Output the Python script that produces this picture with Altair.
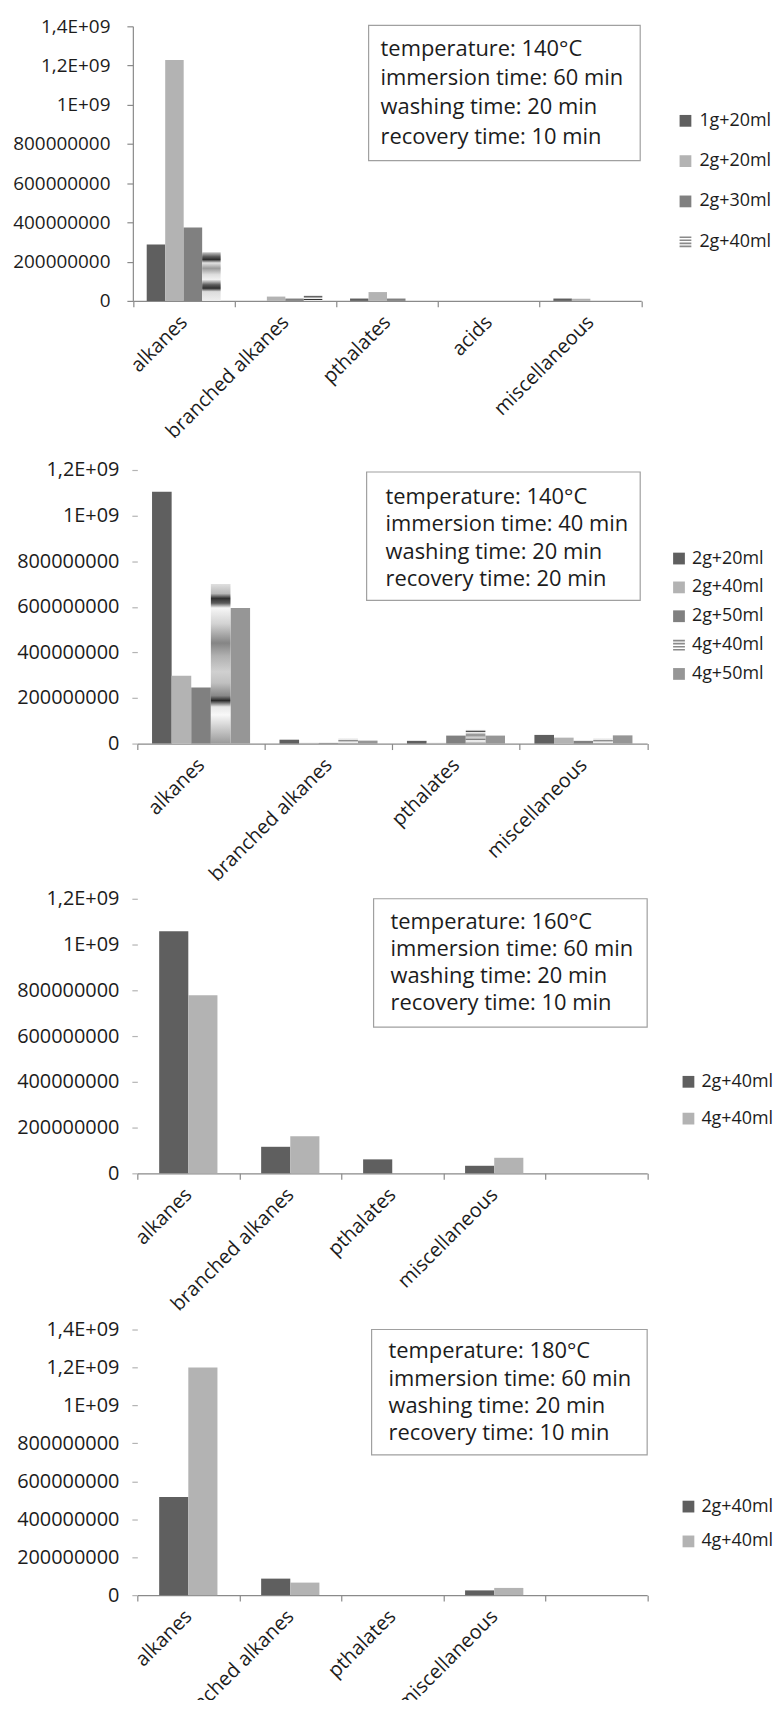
import altair as alt
import pandas as pd

FONT = "Open Sans"
INK = "#1c1c1c"
AXIS = "#8a8a8a"

# ---------------- data ----------------
cats1 = ["alkanes", "branched alkanes", "pthalates", "acids", "miscellaneous"]
ser1 = ["1g+20ml", "2g+20ml", "2g+30ml", "2g+40ml"]
p1_1g20 = [288e6, 0, 12e6, 0, 12e6]
p1_2g20 = [1228e6, 22e6, 45e6, 0, 11e6]
p1_2g30 = [374e6, 12e6, 12e6, 0, 0]
p1_2g40 = [248e6, 27e6, 0, 0, 0]

cats2 = ["alkanes", "branched alkanes", "pthalates", "miscellaneous"]
ser2 = ["2g+20ml", "2g+40ml", "2g+50ml", "4g+40ml", "4g+50ml"]
p2_2g20 = [1105e6, 17e6, 12e6, 38e6]
p2_2g40 = [297e6, 3e6, 3e6, 26e6]
p2_2g50 = [246e6, 3e6, 35e6, 12e6]
p2_4g40 = [700e6, 22e6, 60e6, 22e6]
p2_4g50 = [595e6, 13e6, 35e6, 36e6]

cats34 = ["alkanes", "branched alkanes", "pthalates", "miscellaneous", ""]
ser34 = ["2g+40ml", "4g+40ml"]
p3_2g40 = [1058e6, 116e6, 61e6, 33e6]
p3_4g40 = [778e6, 162e6, 0, 68e6]
p4_2g40 = [517e6, 87e6, 0, 25e6]
p4_4g40 = [1200e6, 66e6, 0, 38e6]

info1 = ["temperature: 140°C", "immersion time: 60 min", "washing time: 20 min", "recovery time: 10 min"]
info2 = ["temperature: 140°C", "immersion time: 40 min", "washing time: 20 min", "recovery time: 20 min"]
info3 = ["temperature: 160°C", "immersion time: 60 min", "washing time: 20 min", "recovery time: 10 min"]
info4 = ["temperature: 180°C", "immersion time: 60 min", "washing time: 20 min", "recovery time: 10 min"]

yticks14 = [0, 200000000, 400000000, 600000000, 800000000, 1000000000, 1200000000, 1400000000]
ylabels14 = ["0", "200000000", "400000000", "600000000", "800000000", "1E+09", "1,2E+09", "1,4E+09"]
yticks12 = yticks14[:-1]
ylabels12 = ylabels14[:-1]

# ---------------- styles ----------------
DARK, LIGHT, MID, MID2, STRIPE = "#5f5f5f", "#b3b3b3", "#808080", "#969696", "#8a8a8a"
SQ = "square"
LINES = "M-1,-0.9H1V-0.62H-1Z M-1,-0.38H1V-0.1H-1Z M-1,0.14H1V0.42H-1Z M-1,0.66H1V0.94H-1Z"


def gradient(stops):
    return alt.LinearGradient(
        gradient="linear",
        stops=[alt.GradientStop(offset=o, color=c) for o, c in stops],
        x1=0, x2=0, y1=0, y2=1,
    )


grad1 = gradient([(0, "#c8c8c8"), (0.09, "#5a5a5a"), (0.15, "#2e2e2e"), (0.22, "#e2e2e2"),
                  (0.33, "#9a9a9a"), (0.46, "#dedede"), (0.56, "#f0f0f0"), (0.67, "#5a5a5a"),
                  (0.74, "#303030"), (0.81, "#dcdcdc"), (1, "#eeeeee")])
grad2 = gradient([(0, "#e0e0e0"), (0.06, "#b8b8b8"), (0.09, "#303030"), (0.12, "#5a5a5a"),
                  (0.15, "#f6f6f6"), (0.25, "#d2d2d2"), (0.37, "#858585"), (0.45, "#b0b0b0"),
                  (0.55, "#d0d0d0"), (0.62, "#c0c0c0"), (0.70, "#888888"), (0.73, "#2a2a2a"),
                  (0.77, "#e8e8e8"), (0.82, "#f8f8f8"), (1, "#9a9a9a")])


def frame(cats, series, columns):
    rows = []
    for s, vals in zip(series, columns):
        for c, v in zip(cats, vals):
            rows.append({"category": c, "series": s, "value": v})
    return pd.DataFrame(rows)


def label_expr(values, texts):
    expr = "''"
    for v, t in zip(reversed(values), reversed(texts)):
        expr = f"datum.value == {int(v)} ? '{t}' : {expr}"
    return expr


def panel(cats, series, columns, colors, shapes, striped, grad, ymax, yticks, ylabels, info, st):
    df = frame(cats, series, columns)
    one = pd.DataFrame({"k": [0]})
    xs = dict(domain=cats, paddingInner=0, paddingOuter=0)
    if "xrange" in st:
        xs["range"] = st["xrange"]
    xaxis = alt.Axis(title=None, labelAngle=-45, labelAlign="right", labelBaseline="middle",
                     labelFont=FONT, labelFontSize=20, labelColor=INK, labelPadding=12,
                     labelOverlap=False, labelLimit=400, tickBand="extent", tickSize=6,
                     tickColor=AXIS, domainColor=AXIS, domainWidth=1.2, tickWidth=1.2)
    x = alt.X("category:N", sort=cats, scale=alt.Scale(**xs), axis=xaxis)
    xo = alt.XOffset("series:N", sort=series,
                     scale=alt.Scale(domain=series, paddingInner=0, paddingOuter=0.75))
    yaxis = alt.Axis(title=None, values=yticks, labelExpr=label_expr(yticks, ylabels), grid=False,
                     domain=st["ydomain"], domainColor=AXIS, domainWidth=1.2,
                     tickColor=st["ytickcolor"], tickSize=st["yticksize"], tickWidth=1.2,
                     labelFont=FONT, labelFontSize=st["ylabsize"], labelColor=INK,
                     labelPadding=st["ylabpad"], offset=st.get("yoffset", 0))
    y = alt.Y("value:Q", scale=alt.Scale(domain=[0, ymax], nice=False), axis=yaxis)
    solid = [s for s in series if s != striped]
    cscale = alt.Scale(domain=series, range=colors)
    leg = alt.Legend(title=None, orient="none", legendX=st["leg"][0], legendY=st["leg"][1],
                     direction="vertical", symbolSize=140, symbolStrokeWidth=0,
                     labelFont=FONT, labelFontSize=18, labelColor=INK, labelOffset=st["leg"][3],
                     rowPadding=st["leg"][2], padding=0, symbolOpacity=1, labelLimit=300)
    bars = alt.Chart(df).transform_filter(
        alt.FieldOneOfPredicate(field="series", oneOf=solid)
    ).mark_bar().encode(x=x, xOffset=xo, y=y, color=alt.Color("series:N", scale=cscale, legend=leg))
    layers = [bars]
    if striped:
        layers.append(
            alt.Chart(df).transform_filter(
                alt.FieldEqualPredicate(field="series", equal=striped)
            ).mark_bar(color=grad).encode(x=x, xOffset=xo, y=y)
        )
    b = st["box"]
    layers.append(
        alt.Chart(one).mark_rect(fill="white", stroke="#a0a0a0", strokeWidth=1.2).encode(
            x=alt.value(b[0]), x2=alt.value(b[1]), y=alt.value(b[2]), y2=alt.value(b[3]))
    )
    tx, ty, lh = st["text"]
    for i, line in enumerate(info):
        layers.append(
            alt.Chart(one).mark_text(text=line, align="left", baseline="middle",
                                     font=FONT, fontSize=22, color=INK).encode(
                x=alt.value(tx), y=alt.value(ty + i * lh))
        )
    layers.append(
        alt.Chart(pd.DataFrame({"series": series})).mark_point(filled=True, opacity=0, size=140).encode(
            color=alt.Color("series:N", scale=cscale, legend=leg),
            shape=alt.Shape("series:N", scale=alt.Scale(domain=series, range=shapes), legend=leg),
        )
    )
    return alt.layer(*layers).properties(width=st["w"], height=st["h"])


def spacer(h):
    return alt.Chart(pd.DataFrame({"k": [0]})).mark_point(opacity=0).encode(
        x=alt.value(0), y=alt.value(0)).properties(width=512, height=h)


st1 = dict(w=507, h=276, xrange=[-4.5, 506.5], ydomain=True, ytickcolor=AXIS, yticksize=6,
           ylabsize=19, ylabpad=17, yoffset=4.5, box=(232.5, 505.5, -1, 135),
           text=(244.5, 23, 29.3), leg=(542, 86, 22.5, 5))
st2 = dict(w=512.5, h=275, ydomain=False, ytickcolor="#b4b4b4", yticksize=5.5,
           ylabsize=20, ylabpad=13, box=(230.5, 505.5, 2, 131),
           text=(249.5, 27, 27.7), leg=(535.5, 80, 11, 4))
st3 = dict(w=512.5, h=276, ydomain=False, ytickcolor="#b4b4b4", yticksize=5.5,
           ylabsize=20, ylabpad=13, box=(237.5, 512.5, 0, 129),
           text=(254.5, 23, 27.3), leg=(545, 175, 19, 4))
st4 = dict(w=512.5, h=267, ydomain=False, ytickcolor="#b4b4b4", yticksize=5.5,
           ylabsize=20, ylabpad=13, box=(235.5, 512.5, 0, 126),
           text=(252.5, 22, 27.3), leg=(545, 169, 17, 4))

c1 = panel(cats1, ser1, [p1_1g20, p1_2g20, p1_2g30, p1_2g40], [DARK, LIGHT, MID, STRIPE],
           [SQ, SQ, SQ, LINES], "2g+40ml", grad1, 1400000000, yticks14, ylabels14, info1, st1)
c2 = panel(cats2, ser2, [p2_2g20, p2_2g40, p2_2g50, p2_4g40, p2_4g50], [DARK, LIGHT, MID, STRIPE, MID2],
           [SQ, SQ, SQ, LINES, SQ], "4g+40ml", grad2, 1200000000, yticks12, ylabels12, info2, st2)
c3 = panel(cats34, ser34, [p3_2g40, p3_4g40], [DARK, LIGHT], [SQ, SQ], None, None,
           1200000000, yticks12, ylabels12, info3, st3)
c4 = panel(cats34, ser34, [p4_2g40, p4_4g40], [DARK, LIGHT], [SQ, SQ], None, None,
           1400000000, yticks14, ylabels14, info4, st4)

# fixed canvas: first plot origin at (130, 14) inside a 770 x 1692 drawing
chart = alt.vconcat(c1, spacer(170), c2, spacer(156), c3, spacer(157), c4,
                    spacing=0, bounds="flush").resolve_scale(
    x="independent", y="independent", xOffset="independent", color="independent", shape="independent"
).resolve_legend(color="independent", shape="independent").properties(
    autosize=alt.AutoSizeParams(type="none"),
    padding={"left": 130, "top": 14, "right": 640, "bottom": 1678},
).configure_view(stroke=None)

chart.save("out.html", embed_options={"renderer": "svg", "actions": False})
